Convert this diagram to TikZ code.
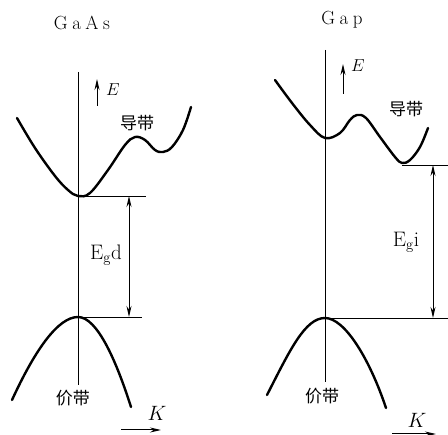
\documentclass[tikz,border=0pt]{standalone}
\usepackage{fontspec}
\newfontfamily\cjk{Noto Sans CJK SC}
\usetikzlibrary{arrows.meta}
\newcommand{\lsp}{\hspace{4.5pt}}
\begin{document}
\begin{tikzpicture}[x=1pt,y=-1pt,
  band/.style={line width=2.4pt, line cap=round},
  axis/.style={line width=0.9pt},
  arr/.style={line width=1pt, -{Stealth[length=11pt,width=5pt]}},
  dbl/.style={line width=1pt, {Stealth[length=11pt,width=5pt]}-{Stealth[length=11pt,width=5pt]}},
  ttl/.style={font=\fontsize{19}{21}\selectfont},
  cjklab/.style={font=\cjk\fontsize{17}{19}\selectfont},
  elab/.style={font=\fontsize{21}{23}\selectfont},
  klab/.style={font=\fontsize{21}{23}\selectfont}]
\useasboundingbox (0,0) rectangle (448,435);
% ---------- GaAs ----------
\node[ttl] (t1) at (82,23) {G\lsp a\lsp A\lsp s};
\coordinate (a1top) at (78,72);
\coordinate (a1bot) at (78,385);
\draw[axis] (a1top) -- (a1bot);
\coordinate (e1s) at (97,106);
\coordinate (e1e) at (97,79);
\draw[arr] (e1s) -- (e1e);
\node[font=\fontsize{16}{18}\selectfont] (E1) at (113,90) {$E$};
\draw[band] plot[smooth, tension=0.6] coordinates {(17,118) (35,148) (55,176) (68,190) (78,196) (90,193) (108,170) (125,145) (135,137) (145,140) (155,150) (163,152) (172,147) (183,130) (191,107)};
\coordinate (cbmin1) at (78,196);
\coordinate (cbref1) at (146,196);
\draw[axis] (cbmin1) -- (cbref1);
\coordinate (vbmax1) at (78,317);
\coordinate (vbref1) at (142,317);
\draw[axis] (vbmax1) -- (vbref1);
\draw[band] (12,400) .. controls (35,350) and (58,317) .. (78,317) .. controls (97,317) and (116,360) .. (131,407);
\coordinate (g1t) at (129,196);
\coordinate (g1b) at (129,317);
\draw[dbl] (g1t) -- (g1b);
\node[elab] (Egd) at (106,255) {E$_{\mathrm{g}}$d};
\node[cjklab] (cb1) at (137,123) {导带};
\node[cjklab] (vb1) at (73,398) {价带};
\node[klab] (K1) at (157,413) {$K$};
\coordinate (k1s) at (121,430);
\coordinate (k1e) at (161,430);
\draw[arr] (k1s) -- (k1e);
% ---------- GaP ----------
\node[ttl] (t2) at (342,20) {G\lsp a\lsp p};
\coordinate (a2top) at (325,50);
\coordinate (a2bot) at (325,382);
\draw[axis] (a2top) -- (a2bot);
\coordinate (e2s) at (343,94);
\coordinate (e2e) at (343,64);
\draw[arr] (e2s) -- (e2e);
\node[font=\fontsize{16}{18}\selectfont] (E2) at (358,66) {$E$};
\draw[band] plot[smooth, tension=0.6] coordinates {(275,80) (292,103) (310,125) (325,138) (340,133) (350,120) (357,115) (366,118) (380,137) (395,157) (402,163) (410,160) (420,147) (428,128)};
\coordinate (cbmin2) at (402,165);
\coordinate (cbref2) at (448,165);
\draw[axis] (cbmin2) -- (cbref2);
\coordinate (vbmax2) at (325,318);
\coordinate (vbref2) at (448,318);
\draw[axis] (vbmax2) -- (vbref2);
\draw[band] (267,395) .. controls (290,350) and (305,318) .. (325,318) .. controls (345,318) and (370,360) .. (386,408);
\coordinate (g2t) at (433,165);
\coordinate (g2b) at (433,318);
\draw[dbl] (g2t) -- (g2b);
\node[elab] (Egi) at (406,242) {E$_{\mathrm{g}}$i};
\node[cjklab] (cb2) at (406,109) {导带};
\node[cjklab] (vb2) at (322,396) {价带};
\node[klab] (K2) at (417,420) {$K$};
\coordinate (k2s) at (392,434);
\coordinate (k2e) at (436,434);
\draw[arr] (k2s) -- (k2e);
\end{tikzpicture}
\end{document}
